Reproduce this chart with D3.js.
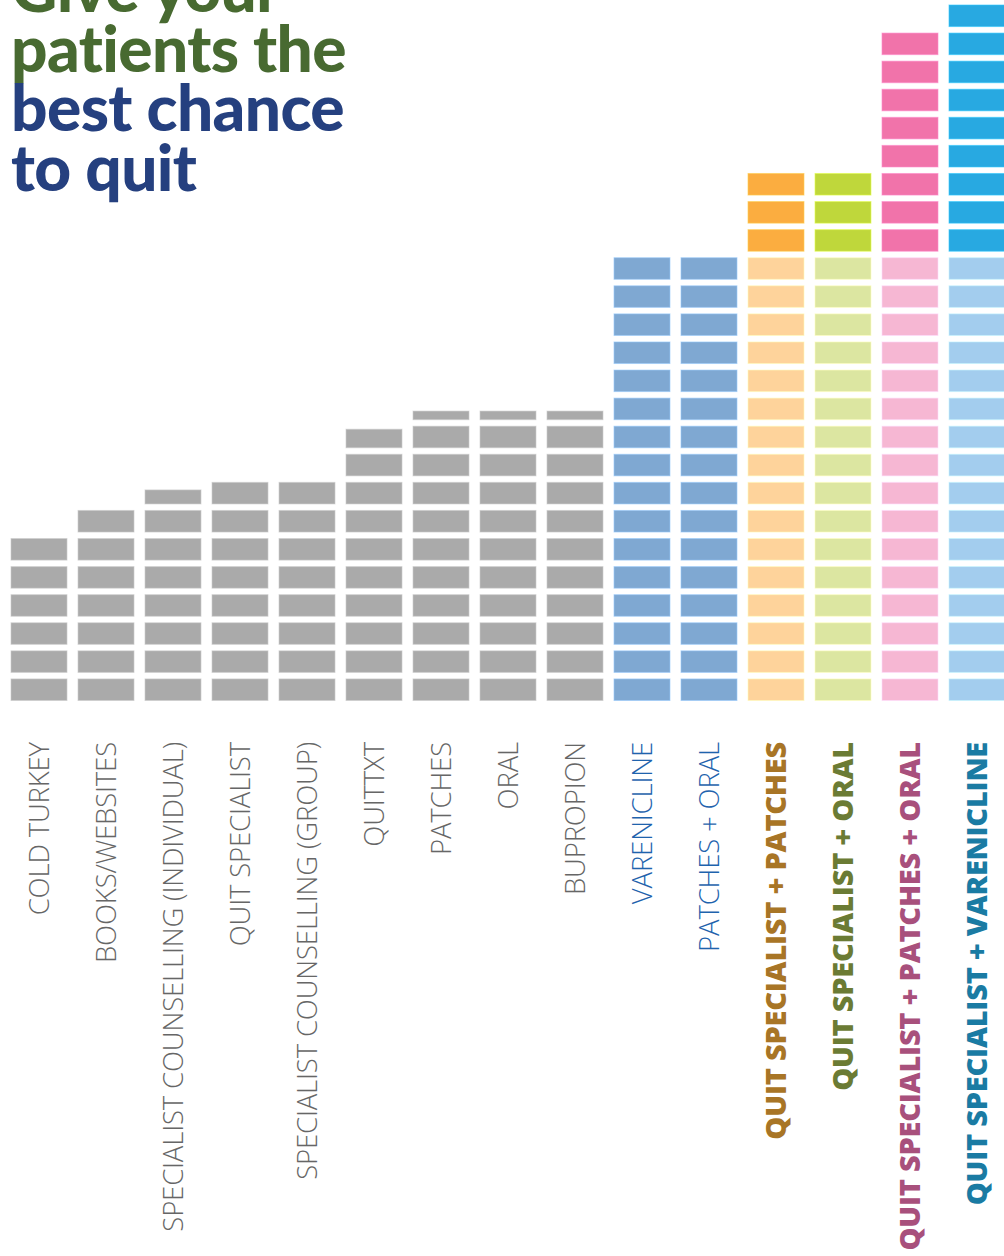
<!DOCTYPE html>
<html>
<head>
<meta charset="utf-8">
<script src="https://cdn.jsdelivr.net/npm/d3@7"></script>
<style>
  html, body { margin: 0; padding: 0; background: #ffffff; }
  svg { display: block; }
</style>
</head>
<body>
<svg id="chart" width="1004" height="1256"></svg>
<script>
// Quit methods, ordered from least to most effective
const categories = [
  "COLD TURKEY", "BOOKS/WEBSITES", "SPECIALIST COUNSELLING (INDIVIDUAL)",
  "QUIT SPECIALIST", "SPECIALIST COUNSELLING (GROUP)", "QUITTXT", "PATCHES",
  "ORAL", "BUPROPION", "VARENICLINE", "PATCHES + ORAL",
  "QUIT SPECIALIST + PATCHES", "QUIT SPECIALIST + ORAL",
  "QUIT SPECIALIST + PATCHES + ORAL", "QUIT SPECIALIST + VARENICLINE"
];
// Base effectiveness (in blocks) and extra gained by adding a quit specialist
const baseValues  = [6, 7, 7.65, 8, 8, 9.86, 10.4, 10.4, 10.4, 16, 16, 16, 16, 16, 16];
const extraValues = [0, 0, 0, 0, 0, 0, 0, 0, 0, 0, 0, 3, 3, 8, 9];
// Colour groups per column
const groups = ["grey","grey","grey","grey","grey","grey","grey","grey","grey",
                "med","med","patch","oral","combo","vare"];
const titleLines = ["Give your", "patients the", "best chance", "to quit"];

const palette = {
  grey:  { base: "#aaaaaa", extra: "#aaaaaa", label: "#666666", bold: false },
  med:   { base: "#7fa8d2", extra: "#7fa8d2", label: "#1f63ad", bold: false },
  patch: { base: "#fed39b", extra: "#fbad40", label: "#a87526", bold: true },
  oral:  { base: "#dce6a1", extra: "#bfd73b", label: "#6b7b34", bold: true },
  combo: { base: "#f6b7d3", extra: "#f173aa", label: "#a8507c", bold: true },
  vare:  { base: "#a3cdee", extra: "#28a9e1", label: "#1a7ba3", bold: true }
};

const svg = d3.select("#chart");

const x = d3.scaleBand()
  .domain(categories)
  .range([11, 1005])
  .paddingInner(0.164)
  .paddingOuter(0);

const maxBlocks = 25;
const unit = 28.08;
const y = d3.scaleLinear()
  .domain([0, maxBlocks])
  .range([703.75, 703.75 - maxBlocks * unit]);
const gap = 6.5;

// Build one record per block
const blocks = [];
categories.forEach((c, i) => {
  const base = baseValues[i], total = base + extraValues[i];
  const n = Math.ceil(total - 1e-9);
  for (let k = 0; k < n; k++) {
    const frac = Math.min(1, total - k);
    blocks.push({ cat: c, k, frac, extra: k >= base, group: groups[i] });
  }
});

svg.append("g")
  .selectAll("rect")
  .data(blocks)
  .join("rect")
  .attr("x", d => x(d.cat))
  .attr("width", x.bandwidth())
  .attr("height", d => (y(d.k) - y(d.k + 1) - gap) * d.frac)
  .attr("y", d => y(d.k) - gap / 2 - (y(d.k) - y(d.k + 1) - gap) * d.frac)
  .attr("fill", d => d.extra ? palette[d.group].extra : palette[d.group].base)
  .attr("stroke", d => d3.color(d.extra ? palette[d.group].extra : palette[d.group].base).brighter(0.5))
  .attr("stroke-opacity", 0.6)
  .attr("stroke-width", 1);

// Rotated category labels under each column
const labelTop = 742;
svg.append("g")
  .selectAll("text")
  .data(categories)
  .join("text")
  .attr("transform", (d, i) => {
    const cx = x(d) + x.bandwidth() / 2;
    const g = palette[groups[i]];
    const off = g.bold ? 10.5 : 10;
    return `translate(${cx + off},${labelTop}) rotate(-90)`;
  })
  .attr("text-anchor", "end")
  .attr("font-family", "'Open Sans', sans-serif")
  .attr("font-weight", (d, i) => palette[groups[i]].bold ? 800 : 300)
  .attr("font-size", (d, i) => palette[groups[i]].bold ? 29 : 27.5)
  .attr("letter-spacing", (d, i) => palette[groups[i]].bold ? -0.25 : -0.15)
  .attr("fill", (d, i) => palette[groups[i]].label)
  .text(d => d);

// Headline
const titleColors = ["#486a31", "#486a31", "#25407f", "#25407f"];
svg.append("g")
  .selectAll("text")
  .data(titleLines)
  .join("text")
  .attr("x", 11)
  .attr("y", (d, i) => 12 + i * 59.7)
  .attr("font-family", "Lato, sans-serif")
  .attr("font-weight", 900)
  .attr("font-size", 64)
  .attr("letter-spacing", -0.6)
  .attr("fill", (d, i) => titleColors[i])
  .text(d => d);
</script>
</body>
</html>
